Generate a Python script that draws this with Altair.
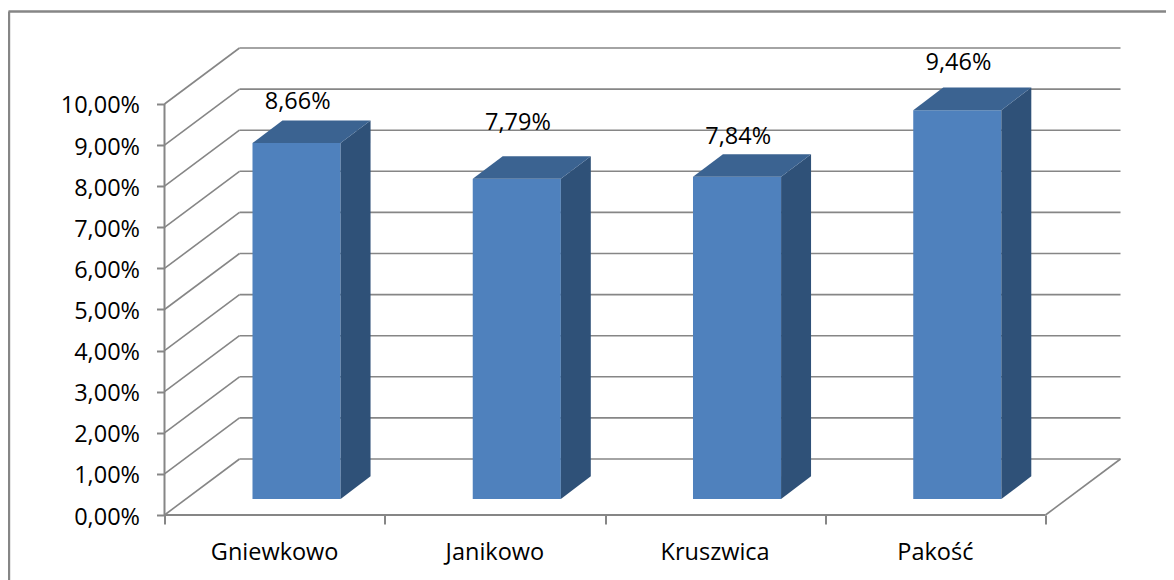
import altair as alt
import pandas as pd

categories = ["Gniewkowo", "Janikowo", "Kruszwica", "Pakość"]
values = [8.66, 7.79, 7.84, 9.46]
value_labels = ["8,66%", "7,79%", "7,84%", "9,46%"]
label_heights = [10.05, 9.53, 9.2, 11.0]
ticks = list(range(0, 11))
cat_ticks = [0, 1, 2, 3, 4]

# 3D projection, in axis units
WALL_DX, WALL_DY = 0.3405, 1.3625
BAR_LEFT, BAR_W = 0.3995, 0.40
BAR_DX, BAR_DY = 0.136, 0.55
BAR_BASE = 0.39
X_MAX, Y_MAX = 4 + WALL_DX, 10 + WALL_DY

PX = alt.Scale(domain=[0, X_MAX], nice=False, zero=False)
PY = alt.Scale(domain=[0, Y_MAX], nice=False, zero=False)
GRID = "#868686"
FONT = "Open Sans"
FS = 23.5

XAX = alt.Axis(
    values=cat_ticks, labels=False, title=None, grid=False, tickSize=9,
    tickColor=GRID, domain=False, tickWidth=2)
YAX = alt.Axis(
    values=ticks, title=None, grid=False, tickSize=8, tickColor=GRID,
    domain=False, tickWidth=2, labelFont=FONT,
    labelFontSize=FS, labelColor="#000000", labelPadding=17, labelOffset=2,
    labelExpr="replace(format(datum.value, '.2f'), '.', ',') + '%'")


def X(field):
    return alt.X(field, scale=PX, axis=XAX)


def Y(field):
    return alt.Y(field, scale=PY, axis=YAX)


grid = pd.DataFrame(
    [{"x": WALL_DX, "x2": X_MAX, "y": t + WALL_DY, "y2": t + WALL_DY} for t in ticks]
    + [{"x": 0, "x2": WALL_DX, "y": t, "y2": t + WALL_DY} for t in ticks]
    + [{"x": 4, "x2": X_MAX, "y": 0, "y2": WALL_DY}]
)
grid_layer = alt.Chart(grid).mark_rule(color=GRID, strokeWidth=1.6).encode(
    x=X("x:Q"), x2="x2:Q", y=Y("y:Q"), y2="y2:Q",
)

axis_lines = pd.DataFrame([
    {"x": 0, "x2": cat_ticks[-1], "y": 0, "y2": 0},
    {"x": 0, "x2": 0, "y": 0, "y2": ticks[-1]},
])
axis_layer = alt.Chart(axis_lines).mark_rule(color=GRID, strokeWidth=2).encode(
    x=X("x:Q"), x2="x2:Q", y=Y("y:Q"), y2="y2:Q",
)

rows = []
for i, (c, v) in enumerate(zip(categories, values)):
    left = i + BAR_LEFT
    rows.append({"cat": c, "left": left, "right": left + BAR_W,
                 "base": BAR_BASE, "top": BAR_BASE + v})
bars = pd.DataFrame(rows)
front = alt.Chart(bars).mark_rect(color="#4F81BD").encode(
    x=X("left:Q"), x2="right:Q", y=Y("base:Q"), y2="top:Q",
)

side_rows, top_rows = [], []
for r in rows:
    for t in (0, 1):
        side_rows.append({"cat": r["cat"], "x": r["right"] + t * BAR_DX,
                          "y": r["base"] + t * BAR_DY, "y2": r["top"] + t * BAR_DY})
        top_rows.append({"cat": r["cat"], "y": r["top"] + t * BAR_DY,
                         "x": r["left"] + t * BAR_DX, "x2": r["right"] + t * BAR_DX})
side = alt.Chart(pd.DataFrame(side_rows)).mark_area(color="#2F5178", opacity=1).encode(
    x=X("x:Q"), y=Y("y:Q"), y2="y2:Q", detail="cat:N",
)
top = alt.Chart(pd.DataFrame(top_rows)).mark_area(
    color="#3B6391", opacity=1, orient="horizontal").encode(
    y=Y("y:Q"), x=X("x:Q"), x2="x2:Q", detail="cat:N",
)

lab = pd.DataFrame({
    "x": [i + BAR_LEFT + BAR_W / 2 + 0.005 for i in range(4)],
    "y": label_heights, "t": value_labels})
labels = alt.Chart(lab).mark_text(font=FONT, fontSize=FS, color="#000000").encode(
    x=X("x:Q"), y=Y("y:Q"), text="t:N",
)

cat = pd.DataFrame({"x": [i + 0.5 for i in range(4)], "y": [-0.92] * 4, "t": categories})
cat_labels = alt.Chart(cat).mark_text(font=FONT, fontSize=FS, color="#000000").encode(
    x=X("x:Q"), y=Y("y:Q"), text="t:N",
)

frame_df = pd.DataFrame({"k": [0]})
frame_top = alt.Chart(frame_df).mark_rule(color=GRID, strokeWidth=2.4).encode(
    x=alt.value(-156), x2=alt.value(1010), y=alt.value(-36.5))
frame_left = alt.Chart(frame_df).mark_rule(color=GRID, strokeWidth=2.4).encode(
    x=alt.value(-155.5), y=alt.value(-36.5), y2=alt.value(540))

chart = alt.layer(
    frame_top, frame_left, grid_layer, axis_layer, front, side, top, labels, cat_labels
).properties(
    width=956, height=467,
    padding={"left": 156.5, "top": 40, "right": 45.5, "bottom": 65},
    autosize=alt.AutoSizeParams(type="none"),
    background="#ffffff",
).configure_view(stroke=None)

chart.save("out.html", embed_options={"renderer": "svg", "actions": False})
